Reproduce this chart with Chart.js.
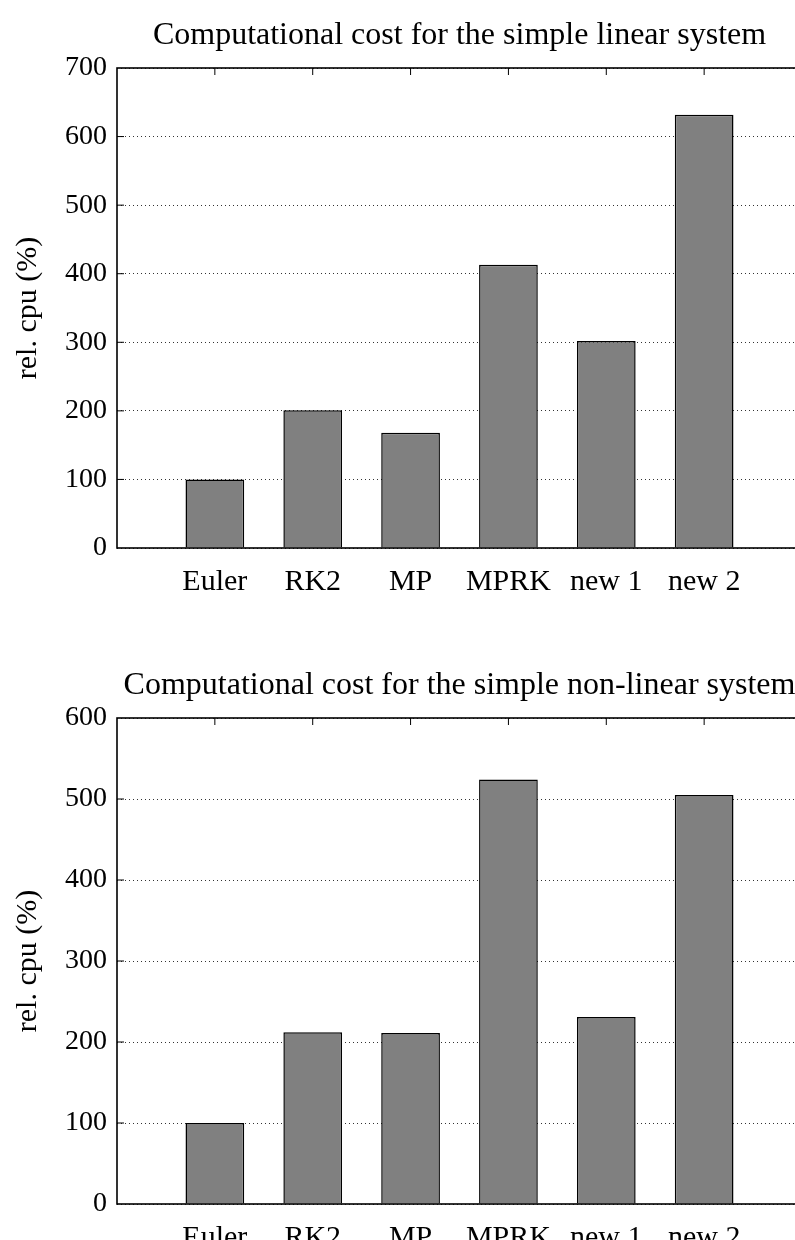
<!DOCTYPE html>
<html>
<head>
<meta charset="utf-8">
<script src="https://cdn.jsdelivr.net/npm/chart.js@4.4.0/dist/chart.umd.min.js"></script>
<style>
  body { margin: 0; background: #fff; overflow: hidden; width: 795px; height: 1240px; position: relative; }
  .box { position: absolute; left: 0; }
</style>
</head>
<body>
<div class="box" style="top:0"><canvas id="linear" width="810" height="620"></canvas></div>
<div class="box" style="top:650px"><canvas id="nonlinear" width="810" height="626"></canvas></div>
<script>
// data
const categories = ['Euler', 'RK2', 'MP', 'MPRK', 'new 1', 'new 2'];
const linearCost = [100, 201, 168, 413, 302, 632];
const nonlinearCost = [100, 212, 211, 524, 231, 505];
const linearMax = 700;
const nonlinearMax = 600;
const yStep = 100;

Chart.defaults.font.family = "'Liberation Serif', serif";
Chart.defaults.color = '#000';

// MATLAB style box with inward ticks
const frame = {
  id: 'frame',
  afterDatasetsDraw(chart) {
    const {ctx, chartArea: a, scales: {x, y}} = chart;
    ctx.save();
    ctx.strokeStyle = '#000';
    ctx.lineWidth = 1;
    ctx.beginPath();
    x.ticks.forEach(t => {
      if (t.value <= x.min || t.value >= x.max) return;
      const px = x.getPixelForValue(t.value);
      ctx.moveTo(px, a.top);
      ctx.lineTo(px, a.top + 7);
    });
    y.ticks.forEach(t => {
      if (t.value <= y.min || t.value >= y.max) return;
      const py = y.getPixelForValue(t.value);
      ctx.moveTo(a.left, py);
      ctx.lineTo(a.left + 7, py);
      ctx.moveTo(a.right, py);
      ctx.lineTo(a.right - 7, py);
    });
    ctx.stroke();
    ctx.lineWidth = 1.6;
    ctx.strokeRect(a.left, a.top, a.right - a.left, a.bottom - a.top);
    ctx.restore();
  }
};

function makeChart(id, title, values, yMax, xHeight) {
  new Chart(document.getElementById(id), {
    type: 'bar',
    data: {
      datasets: [{
        data: values.map((v, i) => ({x: i + 1, y: v})),
        backgroundColor: '#808080',
        borderColor: '#000',
        borderWidth: 1.5,
        categoryPercentage: 0.6,
        barPercentage: 1
      }]
    },
    options: {
      responsive: false,
      animation: false,
      devicePixelRatio: 1,
      layout: { padding: { left: 0, right: 4, top: 0, bottom: 0 } },
      plugins: {
        legend: { display: false },
        tooltip: { enabled: false },
        title: {
          display: true,
          text: title,
          fullSize: false,
          color: '#000',
          font: { size: 32, weight: 'normal', lineHeight: 1.2 },
          padding: { top: 16, bottom: 13.6 }
        }
      },
      scales: {
        x: {
          type: 'linear',
          min: 0,
          max: categories.length + 1,
          offset: false,
          grid: { display: false },
          border: { display: false },
          ticks: {
            stepSize: 1,
            padding: 8,
            maxRotation: 0,
            autoSkip: false,
            font: { size: 30 },
            callback: v => categories[v - 1] || ''
          },
          afterFit: s => { s.height = xHeight; }
        },
        y: {
          min: 0,
          max: yMax,
          grid: { color: '#333', lineWidth: 1, drawTicks: false },
          border: { display: false, dash: [1, 3] },
          ticks: { stepSize: yStep, padding: 10, font: { size: 28 } },
          title: {
            display: true,
            text: 'rel. cpu (%)',
            font: { size: 30, lineHeight: 1.2 },
            padding: { top: 10, bottom: 0 }
          },
          afterFit: s => { s.width = 117; }
        }
      }
    },
    plugins: [frame]
  });
}

makeChart('linear', 'Computational cost for the simple linear system', linearCost, linearMax, 72);
makeChart('nonlinear', 'Computational cost for the simple non-linear system', nonlinearCost, nonlinearMax, 72);
</script>
</body>
</html>
